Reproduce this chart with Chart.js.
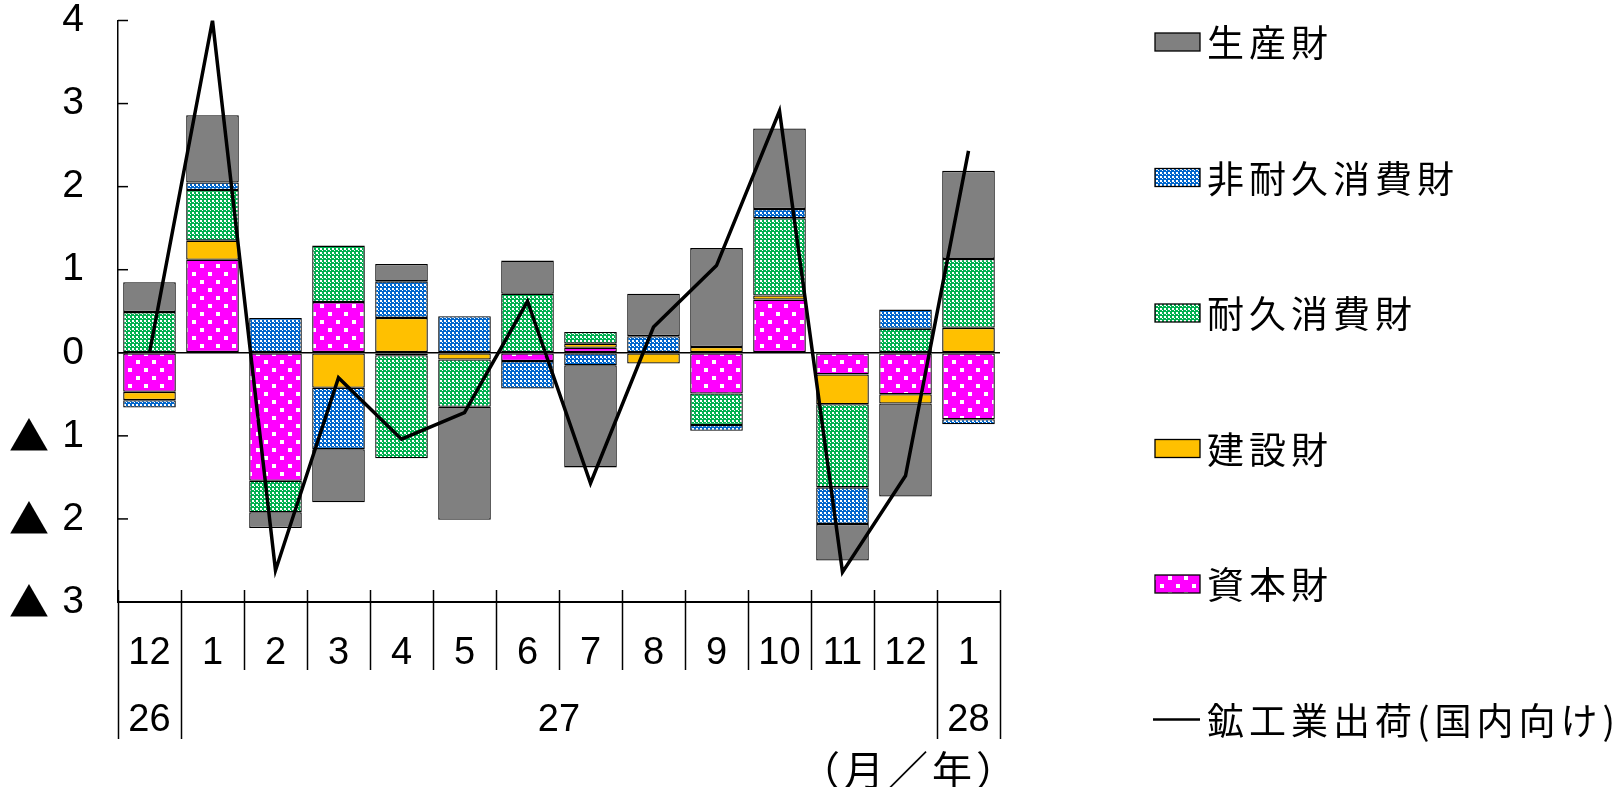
<!DOCTYPE html>
<html>
<head>
<meta charset="utf-8">
<script src="https://cdn.jsdelivr.net/npm/chart.js@4/dist/chart.umd.min.js"></script>
<style>
  html, body { margin: 0; padding: 0; background: #fff; }
  canvas { display: block; }
</style>
</head>
<body>
<canvas id="chart" width="1616" height="787"></canvas>
<script>
// 月ラベル
const months = ['12', '1', '2', '3', '4', '5', '6', '7', '8', '9', '10', '11', '12', '1'];
// 年ラベルとその範囲（月のインデックス）
const yearLabels = ['26', '27', '28'];
const yearStart = [0, 1, 13];
const yearEnd = [0, 12, 13];

// 財別寄与度（%ポイント）
const capitalGoods      = [-0.47, 1.12, -1.54, 0.61, -0.03, 0.00, -0.10, 0.06, 0.00, -0.49, 0.64, -0.26, -0.50, -0.80]; // 資本財
const constructionGoods = [-0.10, 0.23, 0.00, -0.42, 0.42, -0.08, 0.00, 0.05, -0.13, 0.07, 0.05, -0.36, -0.11, 0.30];   // 建設財
const durableGoods      = [0.49, 0.61, -0.38, 0.68, -1.24, -0.57, 0.71, 0.14, 0.00, -0.38, 0.93, -1.00, 0.29, 0.83];    // 耐久消費財
const nondurableGoods   = [-0.09, 0.09, 0.42, -0.74, 0.44, 0.44, -0.33, -0.15, 0.20, -0.07, 0.11, -0.44, 0.23, -0.06];  // 非耐久消費財
const producerGoods     = [0.36, 0.81, -0.19, -0.64, 0.21, -1.36, 0.40, -1.23, 0.51, 1.19, 0.97, -0.44, -1.12, 1.06];   // 生産財
// 鉱工業出荷（国内向け）前月比
const domesticShipments = [0.00, 4.00, -2.62, -0.30, -1.04, -0.72, 0.62, -1.57, 0.31, 1.05, 2.91, -2.64, -1.48, 2.43];

// 縦軸目盛
const yTicks = [-3, -2, -1, 0, 1, 2, 3, 4];

// ---- fill patterns ----
const patCtx = document.createElement('canvas').getContext('2d');
function makePattern(w, h, bg, dots) {
  const tile = document.createElement('canvas');
  tile.width = w; tile.height = h;
  const g = tile.getContext('2d');
  g.fillStyle = bg;
  g.fillRect(0, 0, w, h);
  g.fillStyle = '#ffffff';
  dots.forEach(d => g.fillRect(d[0], d[1], d[2], d[3]));
  return patCtx.createPattern(tile, 'repeat');
}
const magentaDots = makePattern(16, 16, '#ff00ff', [[0, 0, 4, 4], [8, 8, 4, 4]]);
const blueCheck   = makePattern(4, 4, '#0066cc', [[0, 0, 2, 2], [2, 2, 1, 1]]);
const greenCheck  = makePattern(4, 4, '#00b050', [[0, 0, 2, 2], [2, 2, 1, 1]]);
const grayFill    = '#808080';
const yellowFill  = '#ffc000';

function barSet(label, data, fill) {
  return {
    type: 'bar', label, data,
    backgroundColor: fill,
    borderColor: '#000',
    borderWidth: 1.3,
    borderSkipped: false,
    stack: 'goods',
    order: 1
  };
}

// 年ラベル・区切り線・目盛・凡例
const decorations = {
  id: 'decorations',
  afterDraw(chart) {
    const ctx = chart.ctx;
    const xs = chart.scales.x;
    const ys = chart.scales.y;
    const n = months.length;
    const bound = i => {
      if (i === 0) return xs.left;
      if (i === n) return xs.right;
      return (xs.getPixelForValue(i - 1) + xs.getPixelForValue(i)) / 2;
    };
    const axisY = ys.bottom;
    ctx.save();
    ctx.strokeStyle = '#000';
    ctx.lineWidth = 1.5;
    // 月・年の区切り線
    const yearBounds = new Set();
    yearStart.forEach(s => yearBounds.add(s));
    yearEnd.forEach(e => yearBounds.add(e + 1));
    for (let i = 0; i <= n; i++) {
      const x = Math.round(bound(i)) + 0.5;
      ctx.beginPath();
      ctx.moveTo(x, axisY - 12);
      ctx.lineTo(x, yearBounds.has(i) ? axisY + 137 : axisY + 68);
      ctx.stroke();
    }
    // 縦軸の内向き目盛と負値の▲
    ctx.fillStyle = '#000';
    ctx.font = '40px "Noto Sans CJK JP", sans-serif';
    ctx.textAlign = 'center';
    ctx.textBaseline = 'middle';
    yTicks.forEach(v => {
      const y = ys.getPixelForValue(v);
      ctx.beginPath();
      ctx.moveTo(xs.left, y);
      ctx.lineTo(xs.left + 10, y);
      ctx.stroke();
      if (v < 0) ctx.fillText('▲', 29, y);
    });
    // 年ラベル
    ctx.font = '38px "Liberation Sans", Arial, sans-serif';
    yearLabels.forEach((lab, k) => {
      const cx = (bound(yearStart[k]) + bound(yearEnd[k] + 1)) / 2;
      ctx.fillText(lab, cx, axisY + 119);
    });
    // 単位
    ctx.font = '40px "Noto Sans CJK JP", sans-serif';
    ctx.textAlign = 'left';
    ctx.letterSpacing = '4px';
    ctx.fillText('（月／年）', 800, axisY + 168);

    // 凡例
    const bars = chart.data.datasets.filter(d => d.type === 'bar').slice().reverse();
    const line = chart.data.datasets.find(d => d.type === 'line');
    const items = bars.concat([line]);
    ctx.font = '37px "Noto Sans CJK JP", sans-serif';
    ctx.letterSpacing = '5px';
    items.forEach((d, k) => {
      const cy = 42 + 135.5 * k;
      if (d.type === 'bar') {
        ctx.fillStyle = d.backgroundColor;
        ctx.fillRect(1155, cy - 9, 45, 18);
        ctx.lineWidth = 1.3;
        ctx.strokeStyle = '#000';
        ctx.strokeRect(1155, cy - 9, 45, 18);
      } else {
        ctx.lineWidth = 2.5;
        ctx.strokeStyle = '#000';
        ctx.beginPath();
        ctx.moveTo(1153, cy);
        ctx.lineTo(1200, cy);
        ctx.stroke();
      }
      ctx.fillStyle = '#000';
      ctx.fillText(d.label, 1207, cy + 1);
    });
    ctx.restore();
  }
};

new Chart(document.getElementById('chart'), {
  data: {
    labels: months,
    datasets: [
      {
        type: 'line',
        label: '鉱工業出荷(国内向け)',
        data: domesticShipments,
        borderColor: '#000',
        borderWidth: 3.5,
        pointRadius: 0,
        tension: 0,
        fill: false,
        stack: 'line',
        order: 0
      },
      barSet('資本財', capitalGoods, magentaDots),
      barSet('建設財', constructionGoods, yellowFill),
      barSet('耐久消費財', durableGoods, greenCheck),
      barSet('非耐久消費財', nondurableGoods, blueCheck),
      barSet('生産財', producerGoods, grayFill)
    ]
  },
  options: {
    responsive: false,
    animation: false,
    layout: { padding: { left: 0, top: 20.5, right: 616, bottom: 0 } },
    plugins: {
      legend: { display: false },
      tooltip: { enabled: false }
    },
    datasets: {
      bar: { categoryPercentage: 1, barPercentage: 0.835 }
    },
    scales: {
      x: {
        stacked: true,
        offset: true,
        grid: { display: false, drawTicks: false },
        border: { display: true, color: '#000', width: 2 },
        ticks: {
          color: '#000',
          font: { family: '"Liberation Sans", Arial, sans-serif', size: 38 },
          padding: 29,
          maxRotation: 0,
          autoSkip: false
        },
        afterFit(scale) {
          scale.height = 185;
          scale.paddingLeft = 0;
          scale.paddingRight = 0;
        }
      },
      y: {
        stacked: true,
        min: -3,
        max: 4,
        afterBuildTicks(scale) { scale.ticks = yTicks.map(v => ({ value: v })); },
        grid: {
          drawTicks: false,
          color: c => (c.tick && c.tick.value === 0 ? '#000' : 'rgba(0,0,0,0)'),
          lineWidth: 1.5
        },
        border: { display: true, color: '#000', width: 1.5 },
        ticks: {
          color: '#000',
          font: { family: '"Liberation Sans", Arial, sans-serif', size: 39, lineHeight: 1 },
          padding: 34,
          callback: v => String(Math.abs(v))
        },
        afterFit(scale) {
          scale.width = 118;
          scale.paddingTop = 0;
          scale.paddingBottom = 0;
        }
      }
    }
  },
  plugins: [decorations]
});
</script>
</body>
</html>
